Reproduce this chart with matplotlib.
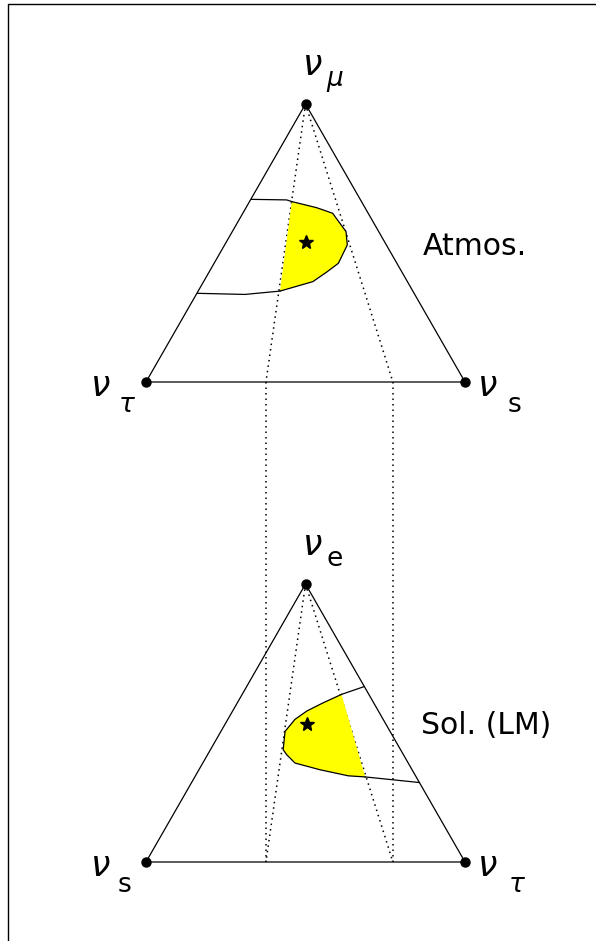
import matplotlib
matplotlib.use("Agg")
import matplotlib.pyplot as plt
import numpy as np

# ---------------- data (normalized triangle coords: u along base 0..1, v height 0..1) ----------
# Atmospheric triangle (apex nu_mu, left nu_tau, right nu_s)
atm_upper_u = [0.331, 0.441, 0.457]
atm_upper_v = [0.657, 0.655, 0.649]
atm_region_u = [0.457, 0.535, 0.585, 0.627, 0.631, 0.603, 0.566, 0.523, 0.420]
atm_region_v = [0.649, 0.627, 0.607, 0.541, 0.493, 0.427, 0.395, 0.361, 0.327]
atm_lower_u = [0.420, 0.310, 0.162]
atm_lower_v = [0.327, 0.315, 0.319]
atm_best = (0.502, 0.504)

# Solar triangle (apex nu_e, left nu_s, right nu_tau)
sol_upper_u = [0.684, 0.613]
sol_upper_v = [0.631, 0.603]
sol_region_u = [0.613, 0.556, 0.504, 0.467, 0.436, 0.430, 0.441, 0.467, 0.545, 0.634, 0.687]
sol_region_v = [0.603, 0.573, 0.543, 0.513, 0.470, 0.404, 0.386, 0.356, 0.332, 0.310, 0.306]
sol_lower_u = [0.687, 0.856]
sol_lower_v = [0.306, 0.286]
sol_best = (0.504, 0.497)

# dotted projection lines: base positions (fraction along base)
proj_base_u = [0.376, 0.774]

top_labels = ["\\mu", "\\tau", "s"]
bot_labels = ["e", "s", "\\tau"]
region_names = ["Atmos.", "Sol. (LM)"]

# ---------------- layout ----------------
W, H = 596, 941
fig = plt.figure(figsize=(W / 100, H / 100), dpi=100)
ax = fig.add_axes([0, 0, 1, 1])
ax.set_xlim(0, W)
ax.set_ylim(H, 0)
ax.axis("off")

X_LEFT, SIDE = 146, 319
TOP_BASE, BOT_BASE, HEIGHT = 382, 862, 278
DOT = (0, (1, 2.6))


def to_px(u, v, base):
    u = np.asarray(u, float)
    v = np.asarray(v, float)
    return X_LEFT + u * SIDE, base - v * HEIGHT


# frame
ax.plot([8, 8, W + 5], [H + 5, 4, 4], color="black", lw=1.0, solid_capstyle="butt")


def draw_triangle(base, upper, region, lower, best, labels):
    vx, vy = to_px([0.5, 0.0, 1.0, 0.5], [1.0, 0.0, 0.0, 1.0], base)
    ax.plot(vx, vy, color="black", lw=0.9)
    ax.plot(vx[:3], vy[:3], "o", color="black", ms=6.5)
    # dotted lines from apex to base points
    for ub in proj_base_u:
        x, y = to_px([0.5, ub], [1.0, 0.0], base)
        ax.plot(x, y, color="black", lw=1.1, ls=DOT)
    # yellow region
    rx, ry = to_px(region[0], region[1], base)
    ax.fill(rx, ry, color="#ffff00", lw=0, zorder=2)
    ax.plot(rx, ry, color="black", lw=0.9, zorder=3)
    ux, uy = to_px(upper[0], upper[1], base)
    ax.plot(ux, uy, color="black", lw=0.9, zorder=3)
    lx, ly = to_px(lower[0], lower[1], base)
    ax.plot(lx, ly, color="black", lw=0.9, zorder=3)
    sx, sy = to_px([best[0]], [best[1]], base)
    ax.plot(sx, sy, "*", color="black", ms=10, zorder=4)
    # labels: (nu x, nu baseline, sub x offset, sub baseline offset)
    fam = ["DejaVu Sans"]
    spots = [(302, base - 307, 24, 11), (90, base + 14, 28, 16), (477, base + 14, 31, 16)]
    for (lx0, ly0, dx, dy), lab in zip(spots, labels):
        ax.text(lx0, ly0, r"$\nu$", fontsize=25, va="baseline", ha="left", family=fam)
        txt = "$" + lab + "$" if lab.startswith("\\") else lab
        ax.text(lx0 + dx, ly0 + dy, txt, fontsize=19, va="baseline", ha="left",
                family=fam)


draw_triangle(TOP_BASE, (atm_upper_u, atm_upper_v), (atm_region_u, atm_region_v),
              (atm_lower_u, atm_lower_v), atm_best, top_labels)
draw_triangle(BOT_BASE, (sol_upper_u, sol_upper_v), (sol_region_u, sol_region_v),
              (sol_lower_u, sol_lower_v), sol_best, bot_labels)

# vertical dotted connectors between the two bases
for ub in proj_base_u:
    x = X_LEFT + ub * SIDE
    ax.plot([x, x], [TOP_BASE, BOT_BASE], color="black", lw=1.1, ls=DOT)

ax.text(423, 255, region_names[0], fontsize=21.5, va="baseline", ha="left")
ax.text(421, 734, region_names[1], fontsize=21.5, va="baseline", ha="left")

fig.savefig("out.png", dpi=100)
